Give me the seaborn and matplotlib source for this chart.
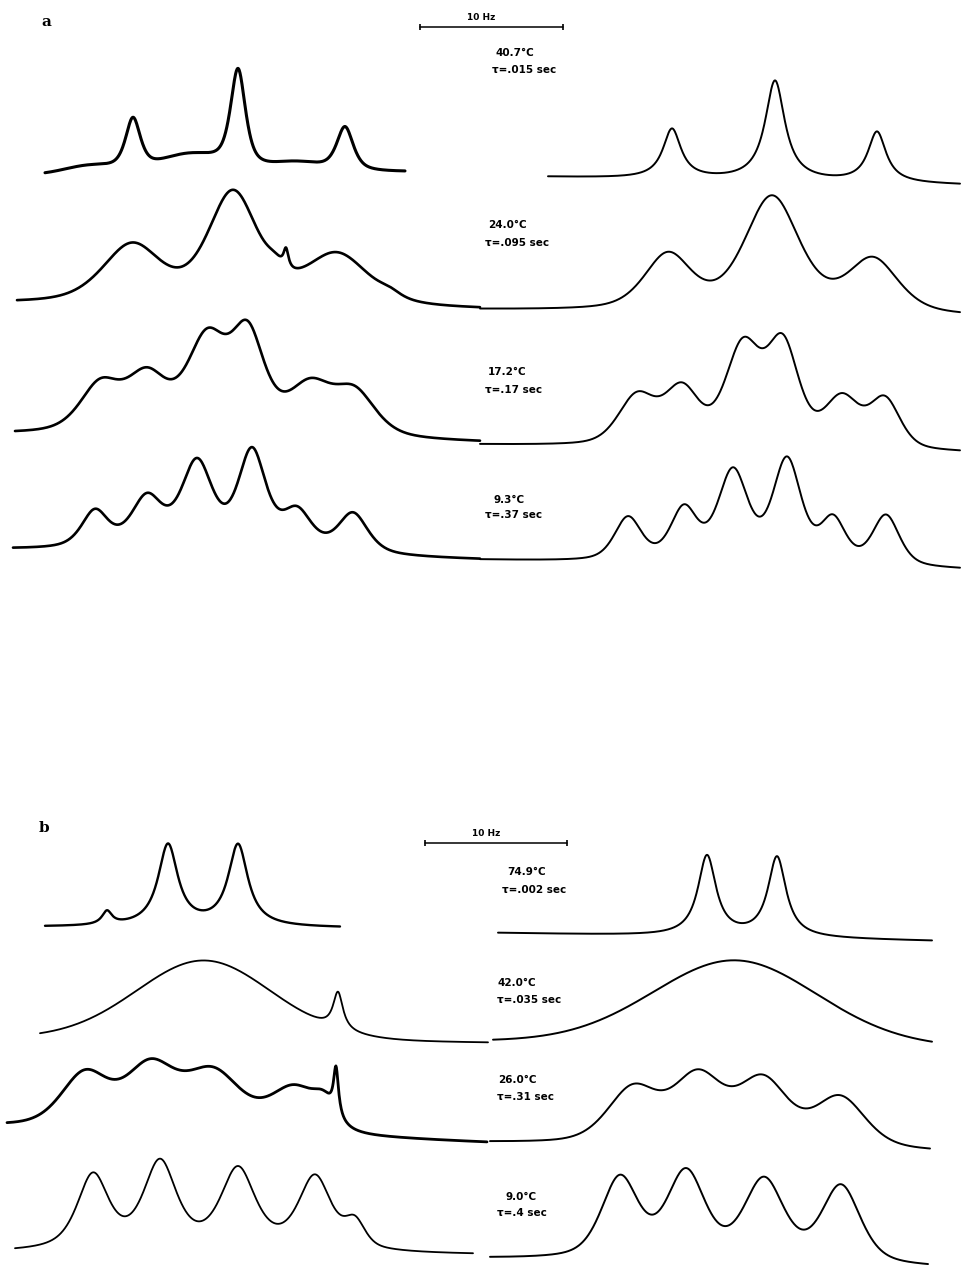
import numpy as np
import matplotlib
matplotlib.use("Agg")
import matplotlib.pyplot as plt
import seaborn as sns

# every value in picture pixels (x right, y down)
# span = (x start, x end, baseline y at start, baseline y at end)
# peak = (centre x, height above baseline, half width at half height, lorentz fraction)

# panel a, experimental (left) and simulated (right)
a_exp_spans = [(45, 405, 175, 172), (17, 480, 304, 310), (15, 480, 435, 443), (13, 480, 550, 560)]
a_exp_407 = [(90, 10, 30, 0), (133, 57, 9, .7), (190, 21, 35, 0), (238, 105, 9, .7),
             (295, 12, 30, 0), (345, 46, 10, .7)]
a_exp_240 = [(132, 63, 35, .5), (233, 117, 30, .5), (275, 55, 10, .5), (286, 60, 3, 1),
             (337, 56, 38, .5), (390, 22, 12, .5)]
a_exp_172 = [(100, 58, 24, .5), (147, 70, 25, .5), (207, 110, 24, .5), (248, 118, 20, .5),
             (310, 62, 27, .5), (355, 55, 25, .5)]
a_exp_93 = [(95, 43, 16, .6), (147, 60, 19, .6), (197, 96, 19, .6), (252, 108, 17, .6),
            (297, 50, 18, .6), (353, 45, 18, .6)]

a_sim_spans = [(548, 960, 177, 185), (480, 960, 310, 317), (480, 960, 445, 453), (480, 960, 560, 570)]
a_sim_407 = [(672, 51, 11, 1), (775, 101, 12, 1), (877, 52, 11, 1)]
a_sim_240 = [(668, 61, 28, .5), (772, 119, 33, .5), (873, 59, 30, .5)]
a_sim_172 = [(637, 56, 22, .4), (682, 66, 21, .4), (743, 112, 21, .4), (783, 116, 19, .4),
             (842, 58, 21, .4), (885, 56, 18, .4)]
a_sim_93 = [(628, 47, 16, .5), (684, 60, 16, .5), (733, 98, 18, .5), (787, 110, 17, .5),
            (833, 53, 15, .5), (886, 54, 16, .5)]

# panel b
b_exp_spans = [(45, 340, 927, 928), (40, 488, 1039, 1043), (7, 487, 1127, 1143), (15, 473, 1253, 1255)]
b_exp_749 = [(107, 17, 6, 1), (168, 84, 12, 1), (238, 84, 12, 1)]
b_exp_420 = [(204, 80, 81, .1), (338, 50, 6, 1)]
b_exp_260 = [(85, 60, 28, .4), (150, 73, 30, .4), (213, 67, 34, .4), (295, 52, 30, .4),
             (324, 47, 12, .4), (336, 72, 3, 1)]
b_exp_90 = [(93, 81, 19, .7), (160, 95, 20, .7), (238, 88, 21, .7), (315, 80, 20, .7), (355, 39, 12, .5)]

b_sim_spans = [(498, 932, 933, 941), (493, 932, 1042, 1048), (490, 930, 1143, 1152), (490, 928, 1259, 1268)]
b_sim_749 = [(707, 82, 11, 1), (777, 82, 11, 1)]
b_sim_420 = [(735, 85, 98, .1)]
b_sim_260 = [(633, 62, 30, .4), (698, 78, 30, .4), (763, 74, 30, .4), (840, 55, 30, .4)]
b_sim_90 = [(620, 87, 22, .5), (686, 95, 23, .5), (764, 88, 24, .5), (841, 82, 23, .5)]

a_temps = ["40.7°C", "24.0°C", "17.2°C", "9.3°C"]
a_taus = [".015", ".095", ".17", ".37"]
b_temps = ["74.9°C", "42.0°C", "26.0°C", "9.0°C"]
b_taus = [".002", ".035", ".31", ".4"]
a_temp_xy = [(495, 53), (488, 225), (488, 372), (493, 500)]
a_tau_xy = [(492, 70), (485, 243), (485, 390), (485, 515)]
b_temp_xy = [(507, 872), (498, 983), (498, 1080), (505, 1197)]
b_tau_xy = [(502, 890), (497, 1000), (497, 1097), (497, 1213)]

# 10 Hz scale bars: (x start, x end, y)
scale_bars = [(420, 563, 27), (425, 567, 843)]


def shape(x, c, w, eta):
    u = (x - c) / w
    return eta / (1 + u ** 2) + (1 - eta) * np.exp(-np.log(2) * u ** 2)


def trace(span, peaks, n=900):
    x0, x1, b0, b1 = span
    p = np.array(peaks, dtype=float)
    c, h, w, eta = p[:, 0], p[:, 1], p[:, 2], p[:, 3]
    # amplitudes so the summed curve hits the read heights at each centre
    M = shape(c[:, None], c[None, :], w[None, :], eta[None, :])
    amp = np.linalg.solve(M, h)
    x = np.linspace(x0, x1, n)
    base = b0 + (b1 - b0) * (x - x0) / (x1 - x0)
    sig = (amp[None, :] * shape(x[:, None], c[None, :], w[None, :], eta[None, :])).sum(axis=1)
    return x, base - sig


sns.set_style("white")
plt.rcParams['font.family'] = ['DejaVu Sans']

fig = plt.figure(figsize=(9.61, 12.69), dpi=100)
ax = fig.add_axes([0, 0, 1, 1])

exp_sets = [(a_exp_spans, [a_exp_407, a_exp_240, a_exp_172, a_exp_93]),
            (b_exp_spans, [b_exp_749, b_exp_420, b_exp_260, b_exp_90])]
sim_sets = [(a_sim_spans, [a_sim_407, a_sim_240, a_sim_172, a_sim_93]),
            (b_sim_spans, [b_sim_749, b_sim_420, b_sim_260, b_sim_90])]
exp_lw = [[2.2, 1.9, 1.9, 1.9], [1.7, 1.3, 2.0, 1.3]]

for k, (spans, specs) in enumerate(exp_sets):
    for j, (span, peaks) in enumerate(zip(spans, specs)):
        x, y = trace(span, peaks)
        sns.lineplot(x=x, y=y, ax=ax, color="black", lw=exp_lw[k][j], sort=False, estimator=None)

for spans, specs in sim_sets:
    for span, peaks in zip(spans, specs):
        x, y = trace(span, peaks)
        sns.lineplot(x=x, y=y, ax=ax, color="black", lw=1.4, sort=False, estimator=None)

# labels
for temps, taus, txy, uxy in [(a_temps, a_taus, a_temp_xy, a_tau_xy),
                              (b_temps, b_taus, b_temp_xy, b_tau_xy)]:
    for t, s, (tx, ty), (ux, uy) in zip(temps, taus, txy, uxy):
        ax.text(tx, ty, t, fontsize=7.5, fontweight="bold", color="black", ha="left", va="center")
        ax.text(ux, uy, "τ=" + s + " sec", fontsize=7.5, fontweight="bold", color="black",
                ha="left", va="center")

for x0, x1, yb in scale_bars:
    sns.lineplot(x=[x0, x1], y=[yb, yb], ax=ax, color="black", lw=1.1)
    ax.plot([x0, x1], [yb, yb], ls="none", marker="|", ms=5, mew=1.2, color="black")
    ax.text((x0 + x1) / 2 - 10, yb - 9, "10 Hz", fontsize=6.5, fontweight="bold", color="black",
            ha="center", va="center")

ax.text(46, 22, "a", fontsize=11, fontweight="bold", family="DejaVu Serif", color="black",
        ha="center", va="center")
ax.text(44, 828, "b", fontsize=11, fontweight="bold", family="DejaVu Serif", color="black",
        ha="center", va="center")

ax.set_xlim(0, 961)
ax.set_ylim(1269, 0)
ax.axis("off")

fig.savefig("out.png", dpi=100, facecolor="white")
